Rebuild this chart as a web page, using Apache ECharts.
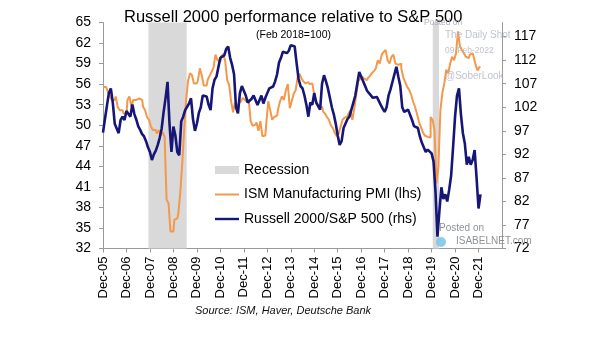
<!DOCTYPE html>
<html>
<head>
<meta charset="utf-8">
<script src="https://cdn.jsdelivr.net/npm/echarts@6/dist/echarts.min.js"></script>
<style>
html,body{margin:0;padding:0;background:#fff;}
#chart{width:605px;height:341px;}
</style>
</head>
<body>
<div id="chart"></div>
<script>
// Month index 0 = Dec 2005, 12 = Dec 2006, ... 204 = Dec 2022
const tickLabels = ['Dec-05','Dec-06','Dec-07','Dec-08','Dec-09','Dec-10','Dec-11','Dec-12','Dec-13','Dec-14','Dec-15','Dec-16','Dec-17','Dec-18','Dec-19','Dec-20','Dec-21'];

// ISM Manufacturing PMI (lhs), monthly from Dec 2005 to Jan 2022
const ismPmi = [
55.6,55.6,55.6,54.9,54.2,53.7,53.7,54.2,52.7,52.2,52.2,51.7,
51.7,53.7,54.2,52.7,53.7,53.7,53.9,53.9,53.7,52.7,52.2,51.2,
50.8,49.8,49.3,49.3,48.8,49.3,48.5,49.0,48.3,39.1,38.6,34.5,
34.5,36.2,36.4,37.1,40.1,44.4,49.3,53.7,56.5,57.6,57.3,56.1,
56.1,56.5,58.3,57.3,55.8,55.8,56.6,57.2,57.8,58.4,60.3,59.5,
59.3,60.1,60.4,59.3,56.6,55.9,53.5,51.9,53.3,52.8,53.2,53.5,
54.0,53.7,53.4,53.7,50.6,49.9,50.1,50.4,49.2,50.6,48.4,48.5,
50.3,53.5,52.2,50.8,51.2,51.4,52.3,53.5,54.2,53.7,55.1,56.0,
52.5,53.5,54.6,55.1,57.0,57.5,56.8,56.4,56.1,56.3,56.0,56.1,
55.3,53.7,53.2,52.7,52.7,52.0,51.7,51.2,50.8,50.0,49.6,48.9,
48.4,48.8,49.8,50.8,51.1,51.3,51.7,52.2,50.8,52.5,54.5,56.4,
56.8,57.1,56.8,56.6,56.9,57.2,57.6,57.9,58.3,59.5,59.0,60.3,
60.7,61.0,59.5,59.0,60.0,60.3,59.0,58.8,59.0,58.3,57.0,56.3,
55.6,55.2,54.5,53.5,52.7,51.7,50.5,49.8,49.0,48.5,48.3,48.2,
51.2,50.8,49.3,41.5,43.9,52.2,54.7,56.1,58.1,57.6,59.0,60.0,
59.5,60.5,63.7,61.5,61.0,60.5,60.0,59.8,60.3,60.5,60.0,58.8,
58.0,58.5
];

// Russell 2000 / S&P 500 (rhs, Feb 2018 = 100), monthly from Dec 2005 to Jan 2022
const russellSp = [
96.6,99.5,102.3,105.0,106.0,103.0,98.5,97.5,96.5,99.3,100.0,99.3,
101.2,101.4,100.0,102.6,100.6,99.4,98.0,97.2,96.3,95.8,94.8,93.5,
92.5,90.8,92.0,92.8,94.0,95.5,97.5,101.0,104.0,107.4,98.5,92.5,
97.9,96.0,92.5,91.8,99.0,100.0,101.4,101.5,102.8,103.9,99.5,97.0,
98.5,100.8,102.0,104.5,104.8,104.3,102.5,101.4,106.0,107.8,108.5,110.5,
112.5,112.2,113.0,114.4,114.9,112.5,111.0,109.0,102.0,100.7,105.0,106.5,
106.5,104.5,103.0,102.8,103.8,104.5,103.5,102.5,103.5,104.5,102.8,104.0,
105.0,106.0,106.4,106.4,107.5,109.0,111.5,112.5,113.8,114.0,113.5,114.0,
115.2,115.0,114.9,111.3,108.0,106.5,106.0,104.5,102.5,100.0,103.0,102.5,
105.0,103.0,102.8,101.5,107.0,108.8,107.5,106.0,104.0,102.0,100.5,98.5,
96.0,94.0,94.8,97.6,97.8,99.5,100.0,101.5,103.0,104.5,107.0,109.5,
109.5,107.5,106.5,105.5,105.0,105.3,104.0,104.4,104.2,103.8,102.5,101.7,
101.0,102.0,104.5,105.8,106.2,109.0,110.6,108.5,106.5,102.0,101.0,100.7,
101.5,101.8,99.3,98.0,97.9,97.6,95.8,94.5,93.5,92.5,93.0,93.0,
92.2,90.5,84.0,74.5,80.0,85.0,82.5,83.5,82.0,84.5,87.5,93.6,
100.0,104.5,106.0,100.5,96.5,94.3,89.8,91.5,89.8,90.8,92.9,87.0,
80.5,83.5
];

// Recession periods (month index, 0 = Dec 2005)
const recessions = [[23.2, 42.8], [168.6, 171.8]];

const FONT = "'Liberation Sans', Arial, Helvetica, sans-serif";
const ORANGE = '#F4984A';
const NAVY = '#161679';
const GREY = '#D9D9D9';

const chart = echarts.init(document.getElementById('chart'), null, {renderer: 'canvas'});

const option = {
  backgroundColor: '#fff',
  animation: false,
  textStyle: {fontFamily: FONT},
  title: [
    {text: 'Russell 2000 performance relative to S&P 500', left: 119, top: 4,
     textStyle: {fontSize: 16.5, fontWeight: 'normal', color: '#000', fontFamily: FONT}},
    {text: '(Feb 2018=100)', left: 251, top: 25,
     textStyle: {fontSize: 10.5, fontWeight: 'normal', color: '#000', fontFamily: FONT}}
  ],
  grid: {left: 103, right: 103, top: 22.5, bottom: 92.5, containLabel: false},
  legend: {
    orient: 'vertical', left: 215, top: 163, padding: 0,
    itemWidth: 24, itemHeight: 8, itemGap: 10.5,
    selectedMode: false,
    textStyle: {fontSize: 14, color: '#000', fontFamily: FONT},
    data: [
      {name: 'Recession', icon: 'rect'},
      {name: 'ISM Manufacturing PMI (lhs)', icon: 'path://M0,0L24,0L24,2L0,2Z'},
      {name: 'Russell 2000/S&P 500 (rhs)', icon: 'path://M0,0L24,0L24,2.4L0,2.4Z'}
    ]
  },
  xAxis: {
    type: 'value', min: 0, max: 204, interval: 12,
    axisLine: {show: true, lineStyle: {color: '#9a9a9a', width: 1}},
    axisTick: {show: true, length: 4, lineStyle: {color: '#9a9a9a'}},
    splitLine: {show: false},
    axisLabel: {
      rotate: 90, margin: 8, fontSize: 13, color: '#000', fontFamily: FONT,
      showMaxLabel: false,
      formatter: v => tickLabels[Math.round(v / 12)] || ''
    }
  },
  yAxis: [
    {
      type: 'value', position: 'left', min: 32, max: 65, interval: 3,
      axisLine: {show: true, lineStyle: {color: '#9a9a9a', width: 1}},
      axisTick: {show: true, length: 4, lineStyle: {color: '#9a9a9a'}},
      splitLine: {show: false},
      axisLabel: {margin: 12, fontSize: 14, color: '#000', fontFamily: FONT}
    },
    {
      type: 'value', position: 'right', min: 72, max: 120, interval: 5,
      axisLine: {show: true, lineStyle: {color: '#9a9a9a', width: 1}},
      axisTick: {show: true, length: 4, lineStyle: {color: '#9a9a9a'}},
      splitLine: {show: false},
      axisLabel: {margin: 12, fontSize: 14, color: '#000', fontFamily: FONT, showMaxLabel: false}
    }
  ],
  series: [
    {
      name: 'Recession', type: 'line', data: [], color: GREY,
      itemStyle: {color: GREY},
      markArea: {
        silent: true,
        itemStyle: {color: GREY},
        data: recessions.map(r => [{xAxis: r[0]}, {xAxis: r[1]}])
      }
    },
    {
      name: 'ISM Manufacturing PMI (lhs)', type: 'line', yAxisIndex: 0,
      data: ismPmi.map((v, i) => [i, v]),
      step: 'middle', symbol: 'none', color: ORANGE,
      lineStyle: {color: ORANGE, width: 2}
    },
    {
      name: 'Russell 2000/S&P 500 (rhs)', type: 'line', yAxisIndex: 1,
      data: russellSp.map((v, i) => [i, v]),
      symbol: 'none', color: NAVY,
      lineStyle: {color: NAVY, width: 2.6}
    }
  ],
  graphic: [
    {type: 'text', left: 424, top: 18, z: 100, silent: true,
     style: {text: 'Posted on', font: '8.5px ' + FONT, fill: 'rgba(160,165,175,0.85)'}},
    {type: 'text', left: 445, top: 30, z: 100, silent: true,
     style: {text: 'The Daily Shot', font: '10px ' + FONT, fill: 'rgba(175,180,195,0.8)'}},
    {type: 'text', left: 445, top: 46, z: 100, silent: true,
     style: {text: '09-Feb-2022', font: '8.5px ' + FONT, fill: 'rgba(175,180,195,0.8)'}},
    {type: 'text', left: 445, top: 71, z: 100, silent: true,
     style: {text: '@SoberLook', font: '10px ' + FONT, fill: 'rgba(175,180,195,0.8)'}},
    {type: 'text', left: 439, top: 223, z: 100, silent: true,
     style: {text: 'Posted on', font: '10px ' + FONT, fill: 'rgba(130,135,140,0.9)'}},
    {type: 'text', left: 456, top: 236, z: 100, silent: true,
     style: {text: 'ISABELNET.com', font: '10px ' + FONT, fill: 'rgba(130,135,140,0.9)'}},
    {type: 'circle', shape: {cx: 441, cy: 242, r: 5}, z: 100, silent: true,
     style: {fill: 'rgba(120,195,235,0.85)'}},
    {type: 'text', left: 195, top: 305, z: 100, silent: true,
     style: {text: 'Source: ISM, Haver, Deutsche Bank', font: 'italic 11px ' + FONT, fill: '#111'}}
  ]
};

chart.setOption(option);
</script>
</body>
</html>
